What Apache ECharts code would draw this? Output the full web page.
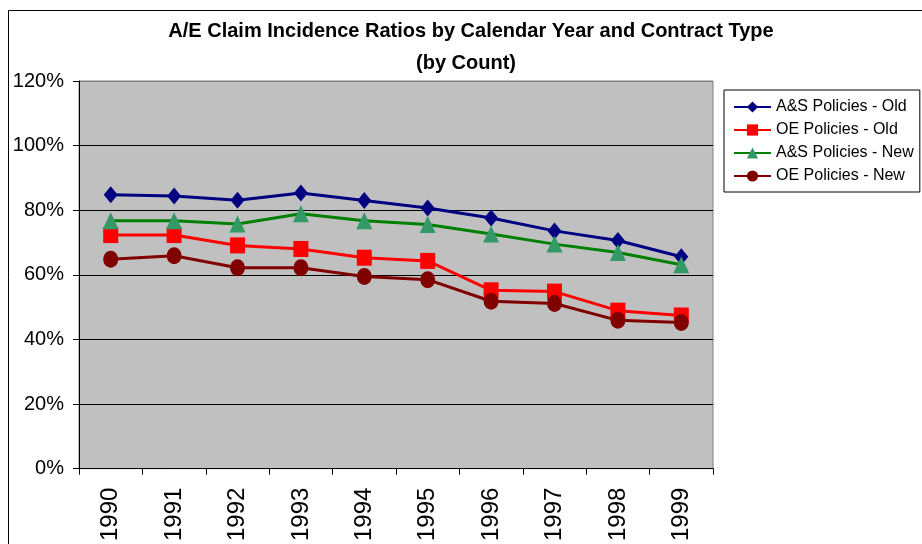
<!DOCTYPE html>
<html lang="en">
<head>
    <meta charset="UTF-8">
    <title>A/E Claim Incidence Ratios</title>
    <script src="https://cdn.jsdelivr.net/npm/echarts@6/dist/echarts.min.js"></script>
    <style>
        html, body { margin: 0; padding: 0; background: #fff; }
        #main { width: 922px; height: 544px; }
    </style>
</head>
<body>
<div id="main"></div>

<script type="text/javascript">

    // categories and series values (ratios)
    var years = ['1990', '1991', '1992', '1993', '1994', '1995', '1996', '1997', '1998', '1999'];
    var asOld = [0.848, 0.844, 0.831, 0.853, 0.830, 0.807, 0.776, 0.736, 0.706, 0.656];
    var oeOld = [0.723, 0.723, 0.691, 0.680, 0.653, 0.643, 0.552, 0.548, 0.489, 0.474];
    var asNew = [0.767, 0.767, 0.757, 0.789, 0.767, 0.756, 0.726, 0.695, 0.669, 0.631];
    var oeNew = [0.648, 0.659, 0.622, 0.622, 0.595, 0.585, 0.518, 0.511, 0.459, 0.452];
    var seriesNames = ['A&S Policies - Old', 'OE Policies - Old', 'A&S Policies - New', 'OE Policies - New'];

    var font = 'Liberation Sans, Arial, sans-serif';

    var myChart = echarts.init(document.getElementById('main'));

    var option = {
        animation: false,
        backgroundColor: '#fff',
        textStyle: { fontFamily: font },
        graphic: [
            {
                // outer chart frame (runs off the right and bottom edge)
                type: 'rect',
                z: -10,
                shape: { x: 8.5, y: 10.5, width: 1000, height: 1000 },
                style: { fill: 'none', stroke: '#000', lineWidth: 1 }
            },
            {
                type: 'text',
                x: 471,
                y: 31,
                style: {
                    text: 'A/E Claim Incidence Ratios by Calendar Year and Contract Type',
                    font: 'bold 20px ' + font,
                    fill: '#000',
                    align: 'center',
                    verticalAlign: 'middle'
                }
            },
            {
                type: 'text',
                x: 466,
                y: 63,
                style: {
                    text: '(by Count)',
                    font: 'bold 20px ' + font,
                    fill: '#000',
                    align: 'center',
                    verticalAlign: 'middle'
                }
            }
        ],
        legend: {
            orient: 'vertical',
            left: 724,
            top: 90,
            padding: [9, 6, 8, 9],
            itemWidth: 37,
            itemHeight: 14,
            itemGap: 7,
            backgroundColor: '#fff',
            borderColor: '#000',
            borderWidth: 1,
            borderRadius: 0,
            textStyle: { fontSize: 16, color: '#000', fontFamily: font },
            data: seriesNames
        },
        grid: {
            left: 79,
            right: 209,
            top: 81,
            bottom: 75,
            show: true,
            backgroundColor: '#c0c0c0',
            borderColor: '#808080',
            borderWidth: 1
        },
        xAxis: {
            type: 'category',
            data: years,
            boundaryGap: true,
            axisLine: { lineStyle: { color: '#000', width: 1 } },
            axisTick: { show: true, length: 6, alignWithLabel: false, lineStyle: { color: '#000' } },
            axisLabel: { rotate: 90, margin: 19, fontSize: 24, color: '#000', fontFamily: font }
        },
        yAxis: {
            type: 'value',
            min: 0,
            max: 1.2,
            interval: 0.2,
            axisLine: { show: true, lineStyle: { color: '#000', width: 1 } },
            axisTick: { show: true, length: 6, lineStyle: { color: '#000' } },
            axisLabel: {
                margin: 15,
                fontSize: 20,
                color: '#000',
                fontFamily: font,
                formatter: function (v) { return Math.round(v * 100) + '%'; }
            },
            splitLine: {
                show: true,
                lineStyle: { color: ['#000', '#000', '#000', '#000', '#000', '#000', '#808080'], width: 1 }
            }
        },
        series: [
            {
                name: seriesNames[0],
                type: 'line',
                data: asOld,
                symbol: 'diamond',
                symbolSize: [14, 17],
                lineStyle: { color: '#000080', width: 3 },
                itemStyle: { color: '#000080' }
            },
            {
                name: seriesNames[1],
                type: 'line',
                data: oeOld,
                symbol: 'rect',
                symbolSize: [15, 16],
                lineStyle: { color: '#ff0000', width: 3 },
                itemStyle: { color: '#ff0000' }
            },
            {
                name: seriesNames[2],
                type: 'line',
                data: asNew,
                symbol: 'triangle',
                symbolSize: [16, 17],
                lineStyle: { color: '#008000', width: 3 },
                itemStyle: { color: '#339966' }
            },
            {
                name: seriesNames[3],
                type: 'line',
                data: oeNew,
                symbol: 'circle',
                symbolSize: [15, 17],
                lineStyle: { color: '#800000', width: 3 },
                itemStyle: { color: '#800000' }
            }
        ]
    };

    myChart.setOption(option);

</script>

</body>
</html>
